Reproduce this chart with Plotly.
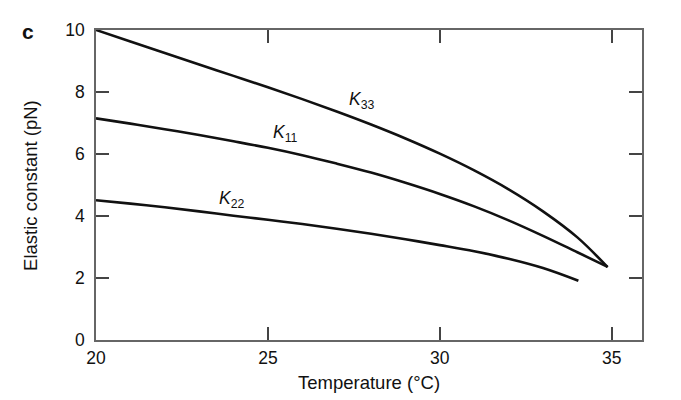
import plotly.graph_objects as go

# Temperature (°C) sample points and elastic constants (pN)
T_33 = [20, 21, 22, 23, 24, 25, 26, 27, 28, 29, 30, 31, 32, 33, 34, 34.88]
K33 = [10.0, 9.63, 9.26, 8.89, 8.52, 8.15, 7.77, 7.37, 6.95, 6.50, 6.01, 5.47, 4.86, 4.15, 3.31, 2.35]

T_11 = [20, 21, 22, 23, 24, 25, 26, 27, 28, 29, 30, 31, 32, 33, 34, 34.88]
K11 = [7.15, 6.98, 6.80, 6.61, 6.41, 6.20, 5.96, 5.69, 5.40, 5.07, 4.71, 4.31, 3.86, 3.36, 2.83, 2.36]

T_22 = [20, 21, 22, 23, 24, 25, 26, 27, 28, 29, 30, 31, 32, 33, 34.03]
K22 = [4.51, 4.40, 4.28, 4.15, 4.01, 3.88, 3.74, 3.59, 3.43, 3.25, 3.06, 2.86, 2.62, 2.32, 1.91]

x_ticks = [20, 25, 30, 35]
y_ticks = [0, 2, 4, 6, 8, 10]

labels = [
    ("<i>K</i><sub>33</sub>", 27.74, 7.72),
    ("<i>K</i><sub>11</sub>", 25.50, 6.66),
    ("<i>K</i><sub>22</sub>", 23.95, 4.52),
]

FONT = "Liberation Sans, Arial, Helvetica, sans-serif"
LINE_COLOR = "#111111"
AXIS_COLOR = "#666666"

fig = go.Figure()
for xs, ys in [(T_33, K33), (T_11, K11), (T_22, K22)]:
    fig.add_trace(go.Scatter(
        x=xs, y=ys, mode="lines",
        line=dict(color=LINE_COLOR, width=2.6, shape="spline", smoothing=1.0),
        showlegend=False, hoverinfo="skip",
    ))

for txt, x, y in labels:
    fig.add_annotation(x=x, y=y, xref="x", yref="y", text=txt, showarrow=False,
                       font=dict(family=FONT, size=17.5, color="#111111"))

fig.add_annotation(x=-0.124, y=0.994, xref="paper", yref="paper", text="<b>c</b>",
                   showarrow=False, xanchor="center", yanchor="middle",
                   font=dict(family=FONT, size=21, color="#111111"))

fig.add_annotation(x=0.5, y=-0.137, xref="paper", yref="paper", text="Temperature (°C)",
                   showarrow=False, xanchor="center", yanchor="middle",
                   font=dict(family=FONT, size=18.5, color="#111111"))

fig.add_annotation(x=-0.121, y=0.5, xref="paper", yref="paper", text="Elastic constant (pN)",
                   showarrow=False, xanchor="center", yanchor="middle", textangle=-90,
                   font=dict(family=FONT, size=18.5, color="#111111"))

axis_common = dict(
    showgrid=False, zeroline=False, showline=True, linecolor=AXIS_COLOR, linewidth=1.6,
    mirror="ticks", ticks="inside", ticklen=13, tickwidth=1.6, tickcolor="#444444",
    tickfont=dict(family=FONT, size=17.5, color="#111111"),
)

fig.update_xaxes(range=[20, 35.88], tickvals=x_ticks, ticktext=[str(v) for v in x_ticks],
                 ticklabelstandoff=1, **axis_common)
fig.update_yaxes(range=[0, 10], tickvals=y_ticks, ticktext=[str(v) for v in y_ticks],
                 ticklabelstandoff=6, **axis_common)

# the page body adds an 8px offset, so margins are compensated accordingly
fig.update_layout(
    width=681, height=400,
    margin=dict(l=88, r=47, t=17, b=68),
    paper_bgcolor="white", plot_bgcolor="white",
    font=dict(family=FONT),
)

fig.write_html("out.html")
